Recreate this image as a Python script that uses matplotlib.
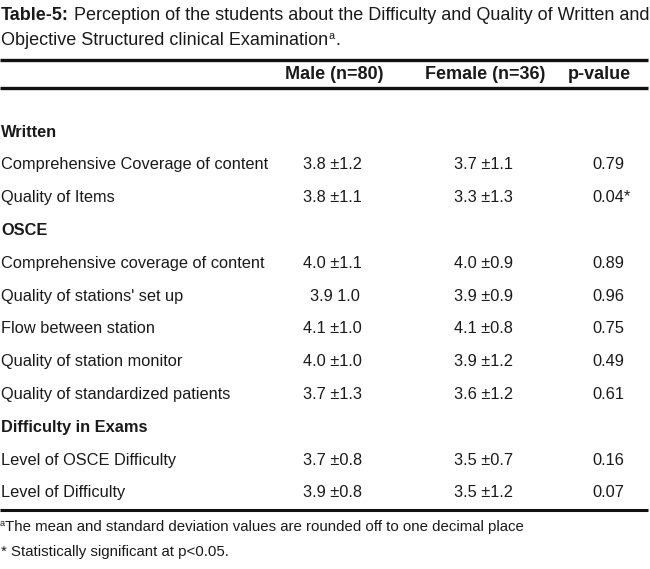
import matplotlib
matplotlib.use("Agg")
import matplotlib.pyplot as plt

FAM = ["Liberation Sans", "DejaVu Sans"]

title_bold = "Table-5:"
title_rest = " Perception of the students about the Difficulty and Quality of Written and"
title_line2 = "Objective Structured clinical Examination"
headers = ["Male (n=80)", "Female (n=36)", "p-value"]
rows = [
    ("Written", None, None, None, True),
    ("Comprehensive Coverage of content", "3.8 \u00b11.2", "3.7 \u00b11.1", "0.79", False),
    ("Quality of Items", "3.8 \u00b11.1", "3.3 \u00b11.3", "0.04*", False),
    ("OSCE", None, None, None, True),
    ("Comprehensive coverage of content", "4.0 \u00b11.1", "4.0 \u00b10.9", "0.89", False),
    ("Quality of stations' set up", "3.9 1.0", "3.9 \u00b10.9", "0.96", False),
    ("Flow between station", "4.1 \u00b11.0", "4.1 \u00b10.8", "0.75", False),
    ("Quality of station monitor", "4.0 \u00b11.0", "3.9 \u00b11.2", "0.49", False),
    ("Quality of standardized patients", "3.7 \u00b11.3", "3.6 \u00b11.2", "0.61", False),
    ("Difficulty in Exams", None, None, None, True),
    ("Level of OSCE Difficulty", "3.7 \u00b10.8", "3.5 \u00b10.7", "0.16", False),
    ("Level of Difficulty", "3.9 \u00b10.8", "3.5 \u00b11.2", "0.07", False),
]
foot1 = "The mean and standard deviation values are rounded off to one decimal place"
foot2 = "* Statistically significant at p<0.05."

W, H = 650, 569
fig = plt.figure(figsize=(W / 100, H / 100), dpi=100)
ax = fig.add_axes([0, 0, 1, 1])
ax.set_xlim(0, W); ax.set_ylim(H, 0); ax.axis("off")
fig.canvas.draw()
R = fig.canvas.get_renderer()

def txt(x, y, s, fs=12, bold=False, **kw):
    return ax.text(x, y, s, fontsize=fs, fontweight="bold" if bold else "normal",
                   family=FAM, va="center", color="#1a1a1a", **kw)

def width(t):
    return t.get_window_extent(R).width

def right_edge(t):
    return t.get_window_extent(R).x1

def fit(s, target, bold=False):
    # font size that makes s about target px wide
    t = txt(0, -100, s, fs=10, bold=bold)
    w = width(t); t.remove()
    return 10 * target / w

# title
fs_t = fit(title_bold + title_rest, 645)
t = txt(1, 15, title_bold, fs=fs_t, bold=True)
txt(right_edge(t), 15, title_rest, fs=fs_t)
t = txt(1, 40, title_line2, fs=fs_t)
s = txt(right_edge(t) + 0.5, 36, "a", fs=fs_t * 0.6)
txt(right_edge(s) + 0.5, 40, ".", fs=fs_t)

# rules
ax.plot([0, 648], [60, 60], color="#111", lw=2.4, solid_capstyle="butt")
ax.plot([0, 648], [88, 88], color="#111", lw=2.4, solid_capstyle="butt")
ax.plot([0, 648], [510, 510], color="#111", lw=2.2, solid_capstyle="butt")

# header
fs_h = fit(headers[1], 121, bold=True)
hx = [285, 425, 568]
for xx, h in zip(hx, headers):
    txt(xx, 74, h, fs=fs_h, bold=True)

# body
fs_b = fit(rows[1][0], 267)
y0, dy = 132, 32.8
cx = [303, 454, 592]
for i, (lab, m, f, p, bold) in enumerate(rows):
    y = y0 + i * dy
    txt(1, y, lab, fs=fs_b, bold=bold)
    if m is not None:
        txt(cx[0] + (7 if m == "3.9 1.0" else 0), y, m, fs=fs_b)
        txt(cx[1], y, f, fs=fs_b)
        txt(cx[2], y, p, fs=fs_b)

# footnotes
fs_f = fit(foot1, 520)
s = txt(0, 523, "a", fs=fs_f * 0.6)
txt(right_edge(s), 527, foot1, fs=fs_f)
txt(1, 552, foot2, fs=fs_f)

fig.savefig("out.png", dpi=100)
